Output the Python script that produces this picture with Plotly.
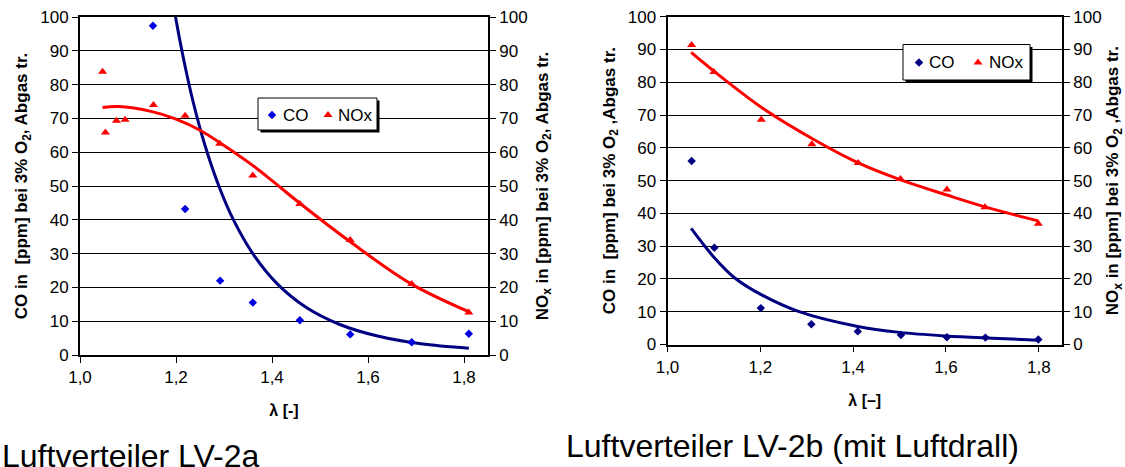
import plotly.graph_objects as go

# ---------------- data ----------------
# Left chart: Luftverteiler LV-2a
lv2a_co_lambda = [1.152, 1.219, 1.292, 1.360, 1.458, 1.563, 1.691, 1.810]
lv2a_co = [97.4, 43.2, 22.0, 15.5, 10.3, 6.1, 3.8, 6.3]
lv2a_nox_lambda = [1.047, 1.053, 1.076, 1.094, 1.153, 1.219, 1.291, 1.360, 1.458, 1.563, 1.691, 1.810]
lv2a_nox = [83.8, 65.8, 69.3, 69.6, 74.0, 70.8, 62.5, 53.1, 44.7, 34.0, 21.0, 12.6]
# trend lines
lv2a_co_trend_lambda = [1.180, 1.199, 1.215, 1.235, 1.260, 1.290, 1.320, 1.360, 1.410, 1.470, 1.540, 1.620, 1.710, 1.810]
lv2a_co_trend = [116.5, 100.0, 88.1, 75.3, 62.2, 49.7, 39.9, 30.0, 21.2, 14.2, 9.1, 5.6, 3.3, 2.0]
lv2a_nox_trend_lambda = [1.047, 1.080, 1.150, 1.200, 1.250, 1.300, 1.354, 1.400, 1.458, 1.563, 1.688, 1.810]
lv2a_nox_trend = [73.2, 73.5, 72.0, 69.8, 66.5, 62.0, 56.7, 51.6, 44.9, 33.5, 21.2, 12.8]

# Right chart: Luftverteiler LV-2b (mit Luftdrall)
lv2b_co_lambda = [1.052, 1.101, 1.201, 1.310, 1.410, 1.503, 1.602, 1.685, 1.799]
lv2b_co = [56.0, 29.5, 11.1, 6.2, 4.0, 2.9, 2.2, 2.1, 1.5]
lv2b_nox_lambda = [1.052, 1.100, 1.202, 1.311, 1.411, 1.502, 1.602, 1.684, 1.799]
lv2b_nox = [91.4, 83.1, 68.6, 61.1, 55.4, 50.5, 47.3, 41.9, 36.8]
lv2b_co_trend_lambda = [1.051, 1.099, 1.145, 1.202, 1.282, 1.410, 1.500, 1.600, 1.700, 1.799]
lv2b_co_trend = [35.4, 26.8, 20.3, 15.2, 10.1, 5.5, 3.7, 2.6, 1.9, 1.3]
lv2b_nox_trend_lambda = [1.051, 1.099, 1.210, 1.318, 1.411, 1.501, 1.602, 1.684, 1.799]
lv2b_nox_trend = [89.1, 83.5, 71.6, 62.3, 55.4, 50.3, 45.6, 42.0, 37.7]

x_ticks = [1.0, 1.2, 1.4, 1.6, 1.8]
y_ticks = [0, 10, 20, 30, 40, 50, 60, 70, 80, 90, 100]
legend_names = ["CO", "NOx"]

# ---------------- figure ----------------
W, H = 1125, 467
FONT = "Liberation Sans, Arial, Helvetica, sans-serif"
RED = "#FF0000"
NAVY = "#000080"
BLUE = "#0000E0"
CO_SIZE = 6.5
NOX_SIZE = 8

fig = go.Figure()

# left chart
fig.add_trace(go.Scatter(x=lv2a_co_trend_lambda, y=lv2a_co_trend, mode="lines",
                         line=dict(color=NAVY, width=3, shape="spline"),
                         xaxis="x", yaxis="y", showlegend=False, hoverinfo="skip"))
fig.add_trace(go.Scatter(x=lv2a_nox_trend_lambda, y=lv2a_nox_trend, mode="lines",
                         line=dict(color=RED, width=3, shape="spline"),
                         xaxis="x", yaxis="y2", showlegend=False, hoverinfo="skip"))
fig.add_trace(go.Scatter(x=lv2a_co_lambda, y=lv2a_co, mode="markers", name="CO",
                         marker=dict(symbol="diamond", size=CO_SIZE, color=BLUE),
                         xaxis="x", yaxis="y", showlegend=False))
fig.add_trace(go.Scatter(x=lv2a_nox_lambda, y=lv2a_nox, mode="markers", name="NOx",
                         marker=dict(symbol="triangle-up", size=NOX_SIZE, color=RED),
                         xaxis="x", yaxis="y2", showlegend=False))

# right chart
fig.add_trace(go.Scatter(x=lv2b_co_trend_lambda, y=lv2b_co_trend, mode="lines",
                         line=dict(color=NAVY, width=3, shape="spline"),
                         xaxis="x2", yaxis="y3", showlegend=False, hoverinfo="skip"))
fig.add_trace(go.Scatter(x=lv2b_nox_trend_lambda, y=lv2b_nox_trend, mode="lines",
                         line=dict(color=RED, width=3, shape="spline"),
                         xaxis="x2", yaxis="y4", showlegend=False, hoverinfo="skip"))
fig.add_trace(go.Scatter(x=lv2b_co_lambda, y=lv2b_co, mode="markers", name="CO",
                         marker=dict(symbol="diamond", size=CO_SIZE, color=NAVY),
                         xaxis="x2", yaxis="y3", showlegend=False))
fig.add_trace(go.Scatter(x=lv2b_nox_lambda, y=lv2b_nox, mode="markers", name="NOx",
                         marker=dict(symbol="triangle-up", size=NOX_SIZE, color=RED),
                         xaxis="x2", yaxis="y4", showlegend=False))

# ---- legend boxes (drawn on a hidden pixel-space overlay subplot x3/y5) ----
legend_boxes = [
    # (box x0, x1, y0, y1, symbol y, CO symbol x, CO text x, NOx symbol x, NOx text x, CO colour)
    (258, 377, 98, 130, 115, 272, 281, 328, 336, BLUE),
    (903, 1030, 44.5, 80, 62.5, 919, 927, 978, 987, NAVY),
]
for (bx0, bx1, by0, by1, sy, cx, ctx, nx, ntx, cocol) in legend_boxes:
    fig.add_shape(type="rect", xref="x3", yref="y5", x0=bx0 + 2.5, x1=bx1 + 2.5,
                  y0=by0 + 2.5, y1=by1 + 2.5, fillcolor="#000", line=dict(width=0),
                  layer="below")
    fig.add_shape(type="rect", xref="x3", yref="y5", x0=bx0, x1=bx1, y0=by0, y1=by1,
                  fillcolor="#fff", line=dict(color="#000", width=1), layer="below")
    fig.add_trace(go.Scatter(x=[cx], y=[sy], mode="markers", xaxis="x3", yaxis="y5",
                             marker=dict(symbol="diamond", size=CO_SIZE, color=cocol),
                             showlegend=False, hoverinfo="skip"))
    fig.add_trace(go.Scatter(x=[nx], y=[sy], mode="markers", xaxis="x3", yaxis="y5",
                             marker=dict(symbol="triangle-up", size=NOX_SIZE, color=RED),
                             showlegend=False, hoverinfo="skip"))
    for tx, name in zip([ctx, ntx], legend_names):
        fig.add_annotation(text=name, xref="x3", yref="y5", x=tx, y=sy,
                           xanchor="left", yanchor="middle", showarrow=False,
                           font=dict(family=FONT, size=17, color="#000"))

tickfont = dict(family=FONT, size=17, color="#000000")
ytitlefont = dict(family=FONT, size=17, color="#000000")
xtitlefont = dict(family=FONT, size=16, color="#000000")

def xax(domain, anchor, title):
    return dict(domain=domain, anchor=anchor, range=[1.0, 1.85], tickvals=x_ticks,
                tickformat=".1f", ticks="outside", ticklen=6, tickcolor="#000",
                showline=True, linecolor="#000", linewidth=1.8, mirror=True,
                showgrid=False, zeroline=False, tickfont=tickfont, automargin=False,
                title=dict(text=title, font=xtitlefont, standoff=19))

def yax(domain, anchor, title, side="left", overlaying=None, grid=True, standoff=8):
    d = dict(domain=domain, anchor=anchor, range=[0, 100], tickvals=y_ticks,
             ticks="outside", ticklen=6, tickcolor="#000", side=side,
             showline=True, linecolor="#000", linewidth=1.8, automargin=False,
             showgrid=grid, gridcolor="#000", gridwidth=1, zeroline=False,
             tickfont=tickfont, title=dict(text=title, font=ytitlefont, standoff=standoff))
    if overlaying:
        d["overlaying"] = overlaying
    return d

dom_a = [80 / W, 488 / W]
vdom_a = [1 - 355 / H, 1 - 17 / H]
dom_b = [667.5 / W, 1062 / W]
vdom_b = [1 - 344.5 / H, 1 - 16.7 / H]

fig.update_layout(
    template="none",
    width=W, height=H, margin=dict(l=0, r=0, t=0, b=0, autoexpand=False),
    paper_bgcolor="white", plot_bgcolor="rgba(0,0,0,0)",
    font=dict(family=FONT, color="#000"),
    separators=",.",
    showlegend=False,
    xaxis=xax(dom_a, "y", "<b>λ [-]</b>"),
    yaxis=yax(vdom_a, "x", "<b>CO in  [ppm] bei 3% O<sub>2</sub>, Abgas tr.</b>"),
    yaxis2=yax(vdom_a, "x", "<b>NO<sub>x</sub> in [ppm] bei 3% O<sub>2</sub>, Abgas tr.</b>",
               side="right", overlaying="y", grid=False, standoff=9),
    xaxis2=xax(dom_b, "y3", "<b>λ [–]</b>"),
    yaxis3=yax(vdom_b, "x2", "<b>CO in  [ppm] bei 3% O<sub>2</sub> ,Abgas tr.</b>"),
    yaxis4=yax(vdom_b, "x2", "<b>NO<sub>x</sub> in [ppm] bei 3% O<sub>2</sub> ,Abgas tr.</b>",
               side="right", overlaying="y3", grid=False, standoff=11),
    xaxis3=dict(domain=[0, 1], anchor="y5", range=[0, W], visible=False, fixedrange=True),
    yaxis5=dict(domain=[0, 1], anchor="x3", range=[H, 0], visible=False, fixedrange=True),
)

# captions (the left one is cut by the bottom edge, as in the reference)
fig.add_annotation(text="Luftverteiler LV-2a", xref="paper", yref="paper",
                   x=0 / W, y=1 - 476 / H, xanchor="left", yanchor="bottom",
                   showarrow=False, font=dict(family=FONT, size=32, color="#000"))
fig.add_annotation(text="Luftverteiler LV-2b (mit Luftdrall)", xref="paper", yref="paper",
                   x=564 / W, y=1 - 466 / H, xanchor="left", yanchor="bottom",
                   showarrow=False, font=dict(family=FONT, size=32, color="#000"))

fig.write_html("out.html")
